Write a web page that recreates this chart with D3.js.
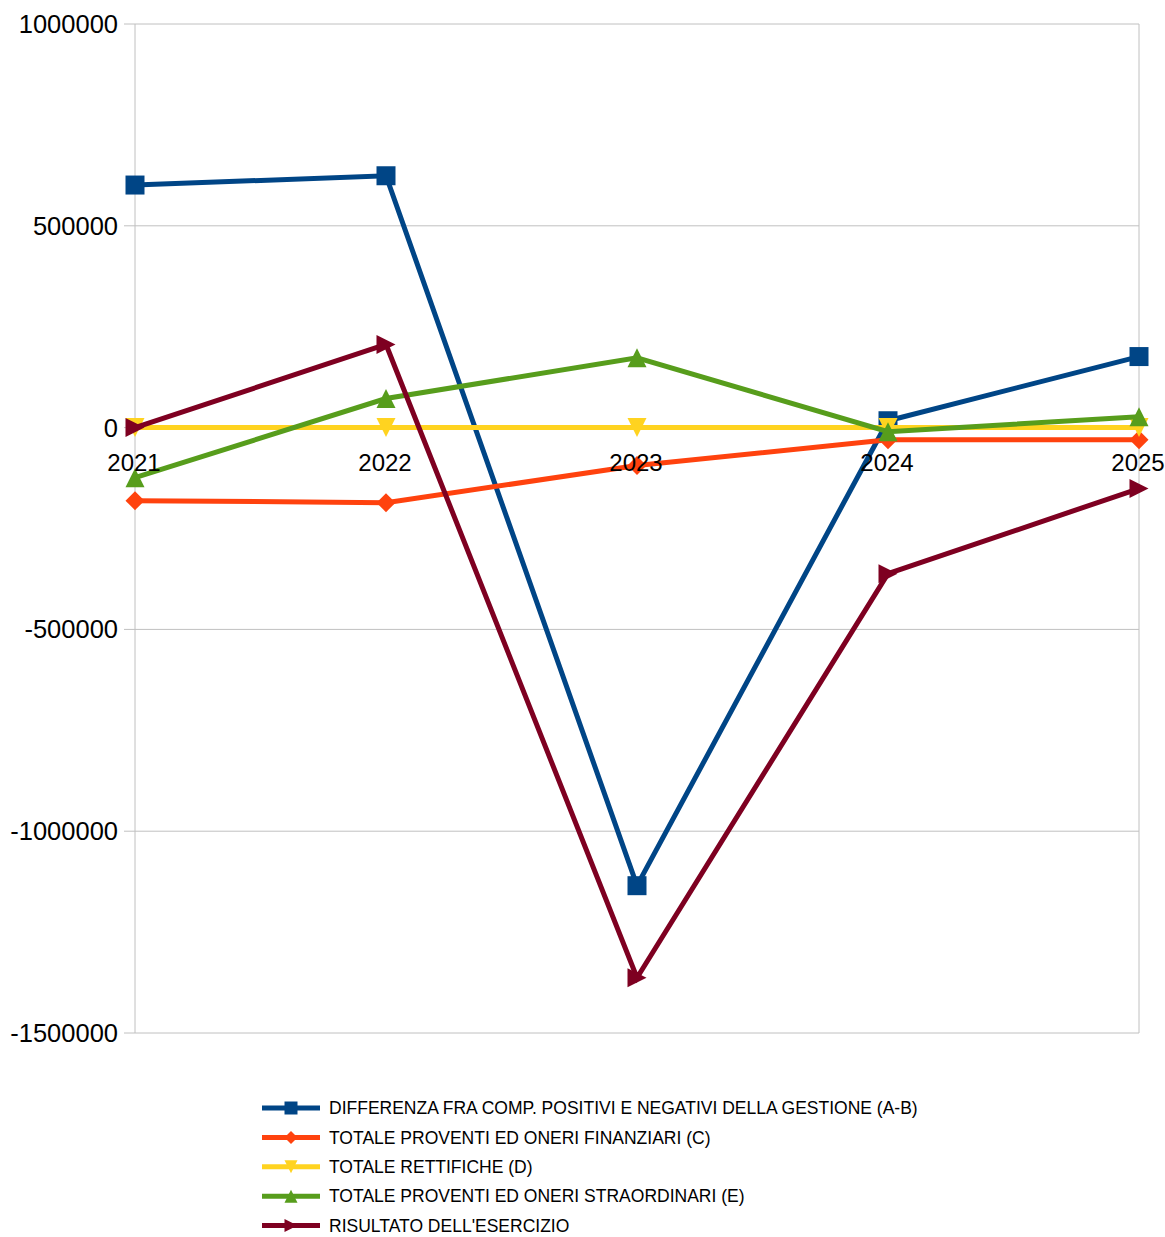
<!DOCTYPE html>
<html><head><meta charset="utf-8">
<script src="https://cdn.jsdelivr.net/npm/d3@7"></script>
<style>body{margin:0;background:#fff;}svg{display:block;}</style>
</head><body>
<svg id="c" width="1165" height="1237"></svg>
<script>
const categories = ["2021","2022","2023","2024","2025"];
const seriesNames = [
  "DIFFERENZA FRA COMP. POSITIVI E NEGATIVI DELLA GESTIONE (A-B)",
  "TOTALE PROVENTI ED ONERI FINANZIARI (C)",
  "TOTALE RETTIFICHE (D)",
  "TOTALE PROVENTI ED ONERI STRAORDINARI (E)",
  "RISULTATO DELL'ESERCIZIO"
];
const valuesAB = [601000, 624000, -1135000, 17000, 176000];
const valuesC = [-181000, -186000, -94000, -30000, -30000];
const valuesD = [0, 0, 0, 0, 0];
const valuesE = [-124000, 72000, 173000, -10000, 27000];
const valuesRis = [0, 206000, -1363000, -362000, -151000];
const yTicks = [1000000, 500000, 0, -500000, -1000000, -1500000];

(function () {
const colors = ["#004586","#ff420e","#ffd320","#579d1c","#7e0021"];
const markerTypes = ["square","diamond","down","up","right"];
const allValues = [valuesAB, valuesC, valuesD, valuesE, valuesRis];

const svg = d3.select("#c");
const pLeft = 135, pRight = 1139, pTop = 24, pBottom = 1033;
const x = d3.scalePoint().domain(categories).range([pLeft, pRight]);
const y = d3.scaleLinear().domain([-1500000, 1000000]).range([pBottom, pTop]);

const g = svg.append("g");
g.selectAll("line.grid").data(yTicks).enter().append("line")
  .attr("x1", pLeft - 11).attr("x2", pRight)
  .attr("y1", d => y(d)).attr("y2", d => y(d))
  .attr("stroke", "#c0c0c0").attr("stroke-width", 1);
g.append("line").attr("x1", pLeft).attr("x2", pLeft).attr("y1", pTop).attr("y2", pBottom)
  .attr("stroke", "#c0c0c0");
g.append("line").attr("x1", pRight).attr("x2", pRight).attr("y1", pTop).attr("y2", pBottom)
  .attr("stroke", "#c0c0c0");

g.selectAll("text.yl").data(yTicks).enter().append("text")
  .attr("x", pLeft - 17).attr("y", d => y(d)).attr("dy", "0.35em")
  .attr("text-anchor", "end")
  .attr("font-family", "Liberation Sans, Arial, sans-serif").attr("font-size", 25.5)
  .attr("fill", "#000").text(d => d);

function markerPath(type, s) {
  const h = s / 2;
  switch (type) {
    case "square": return `M${-h},${-h}H${h}V${h}H${-h}Z`;
    case "diamond": return `M0,${-h}L${h},0L0,${h}L${-h},0Z`;
    case "down": return `M${-h},${-h}L${h},${-h}L0,${h}Z`;
    case "up": return `M${-h},${h}L${h},${h}L0,${-h}Z`;
    case "right": return `M${-h},${-h}L${h},0L${-h},${h}Z`;
  }
}

const line = d3.line().x((d, i) => x(categories[i])).y(d => y(d));
const plot = svg.append("g");
allValues.forEach((vals, si) => {
  plot.append("path").attr("d", line(vals)).attr("fill", "none")
    .attr("stroke", colors[si]).attr("stroke-width", 5).attr("stroke-linejoin", "miter");
  plot.selectAll(null).data(vals).enter().append("path")
    .attr("transform", (d, i) => `translate(${x(categories[i])},${y(d)})`)
    .attr("d", markerPath(markerTypes[si], 19))
    .attr("fill", colors[si]);
});

svg.append("g").selectAll("text").data(categories).enter().append("text")
  .attr("x", d => x(d) - 1).attr("y", y(0) + 43)
  .attr("text-anchor", "middle")
  .attr("font-family", "Liberation Sans, Arial, sans-serif").attr("font-size", 24)
  .attr("fill", "#000").text(d => d);

const leg = svg.append("g");
seriesNames.forEach((name, i) => {
  const ly = 1108 + i * 29.4;
  leg.append("line").attr("x1", 262).attr("x2", 320).attr("y1", ly).attr("y2", ly)
    .attr("stroke", colors[i]).attr("stroke-width", 5);
  leg.append("path").attr("transform", `translate(291,${ly})`)
    .attr("d", markerPath(markerTypes[i], 13)).attr("fill", colors[i]);
  leg.append("text").attr("x", 329).attr("y", ly).attr("dy", "0.35em")
    .attr("font-family", "Liberation Sans, Arial, sans-serif").attr("font-size", 17.5)
    .attr("fill", "#000").text(name);
});
})();
</script>
</body></html>
